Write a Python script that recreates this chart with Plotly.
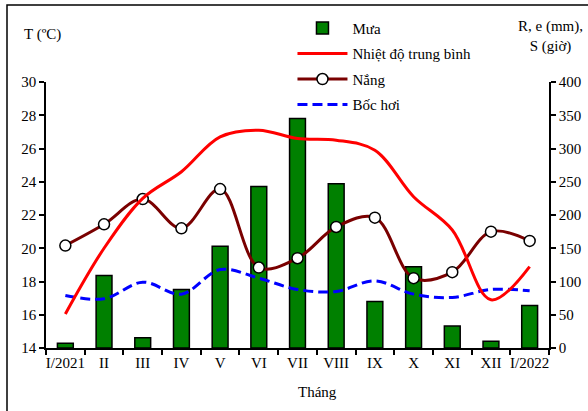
import plotly.graph_objects as go

months = ["I/2021", "II", "III", "IV", "V", "VI", "VII", "VIII", "IX", "X", "XI", "XII", "I/2022"]
rain_mm = [7, 109, 15.5, 88, 153, 243, 345, 247, 70, 122, 33, 10, 64]
temp_c = [16.05, 20.0, 23.0, 24.6, 26.7, 27.1, 26.6, 26.5, 25.9, 23.1, 21.1, 16.9, 18.9]
sun_h = [154, 186, 224, 180, 239, 121, 135, 182, 196, 105, 114, 175, 161]
evap_mm = [79, 74, 99, 81, 118, 105, 88, 85, 101, 81, 76, 88, 86]

FONT = "Liberation Serif"

fig = go.Figure()
fig.add_trace(go.Bar(
    x=months, y=rain_mm, name="Mưa", yaxis="y",
    marker=dict(color="#008000", line=dict(color="black", width=1.5)),
    legendrank=1, legendgroup="a",
))
fig.add_trace(go.Scatter(
    x=months, y=sun_h, name="Nắng", yaxis="y", mode="lines+markers",
    line=dict(color="#7a0000", width=3, shape="spline", smoothing=1),
    marker=dict(size=11, color="white", line=dict(color="black", width=1.5)),
    legendrank=3, legendgroup="c",
))
fig.add_trace(go.Scatter(
    x=months, y=evap_mm, name="Bốc hơi", yaxis="y", mode="lines",
    line=dict(color="#0000ff", width=3, dash="10px,5px", shape="spline", smoothing=1),
    legendrank=4, legendgroup="d",
))
fig.add_trace(go.Scatter(
    x=months, y=temp_c, name="Nhiệt độ trung bình", yaxis="y2", mode="lines",
    line=dict(color="#ff0000", width=3, shape="spline", smoothing=1),
    legendrank=2, legendgroup="b",
))

fig.update_layout(
    width=588, height=411,
    margin=dict(l=46, r=39, t=82, b=63, autoexpand=False),
    paper_bgcolor="white", plot_bgcolor="white",
    font=dict(family=FONT, size=15, color="black"),
    bargap=0.59,
    showlegend=True,
    legend=dict(
        x=0.49, y=1.264, xanchor="left", yanchor="top",
        bgcolor="rgba(0,0,0,0)", font=dict(family=FONT, size=15, color="black"),
        traceorder="grouped", tracegroupgap=3, itemwidth=50,
    ),
    xaxis=dict(
        type="category", range=[-0.5, 12.5], tickson="boundaries", tickangle=0,
        ticks="outside", ticklen=5, tickwidth=1.5, tickcolor="black",
        showline=True, linecolor="black", linewidth=1.5,
        showgrid=False, zeroline=False,
        tickfont=dict(family=FONT, size=15, color="black"),
    ),
    yaxis=dict(
        side="right", range=[0, 400], tickvals=[0, 50, 100, 150, 200, 250, 300, 350, 400],
        ticks="outside", ticklen=5, tickwidth=1.5, tickcolor="black",
        showline=True, linecolor="black", linewidth=1.5,
        showgrid=False, zeroline=False,
        tickfont=dict(family=FONT, size=15, color="black"),
    ),
    yaxis2=dict(
        side="left", overlaying="y", range=[14, 30], tickvals=[14, 16, 18, 20, 22, 24, 26, 28, 30],
        ticks="outside", ticklen=5, tickwidth=1.5, tickcolor="black",
        showline=True, linecolor="black", linewidth=1.5,
        showgrid=False, zeroline=False,
        tickfont=dict(family=FONT, size=15, color="black"),
    ),
    annotations=[
        dict(text="T (ºC)", xref="paper", yref="paper", x=(42 - 46) / 503, y=(348 - 35) / 266,
             xanchor="center", yanchor="middle", showarrow=False, font=dict(family=FONT, size=15)),
        dict(text="R, e (mm),<br>S (giờ)", xref="paper", yref="paper", x=(550 - 46) / 503, y=(348 - 36.5) / 266,
             xanchor="center", yanchor="middle", showarrow=False, font=dict(family=FONT, size=15)),
        dict(text="Tháng", xref="paper", yref="paper", x=(317 - 46) / 503, y=(348 - 392) / 266,
             xanchor="center", yanchor="middle", showarrow=False, font=dict(family=FONT, size=15)),
    ],
    shapes=[
        dict(type="rect", xref="paper", yref="paper", x0=(7 - 46) / 503, x1=1.3,
             y0=-0.4, y1=(348 - 5) / 266, line=dict(color="black", width=1.5)),
    ],
)

fig.write_html("out.html", config={"displayModeBar": False},
               post_script="document.body.style.margin='0px';")
